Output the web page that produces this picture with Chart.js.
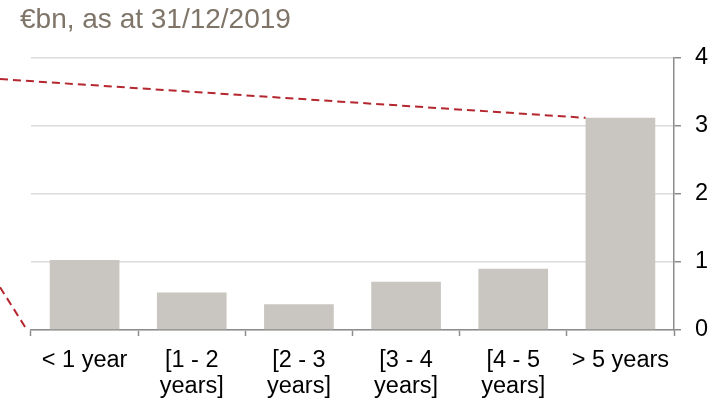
<!DOCTYPE html>
<html>
<head>
<meta charset="utf-8">
<script src="https://cdn.jsdelivr.net/npm/chart.js@4"></script>
<style>
    html, body { margin: 0; padding: 0; background: #fff; }
    #wrap { width: 721px; height: 401px; position: relative; }
</style>
</head>
<body>
<div id="wrap"><canvas id="maturityChart"></canvas></div>
<script>
const TITLE = '€bn, as at 31/12/2019';

const categories = [
    ['< 1 year'],
    ['[1 - 2', 'years]'],
    ['[2 - 3', 'years]'],
    ['[3 - 4', 'years]'],
    ['[4 - 5', 'years]'],
    ['> 5 years']
];

const amounts = [1.03, 0.55, 0.38, 0.71, 0.90, 3.12];

const yTicks = [0, 1, 2, 3, 4];

// callout lines coming in from the chart on the left (values on the y scale at x = 0)
const calloutTopStart = 3.69;
const calloutBottomStart = 0.63;

const FONT = "'Liberation Sans', Arial, sans-serif";

const titlePlugin = {
    id: 'titleText',
    afterDraw(chart) {
        const ctx = chart.ctx;
        ctx.save();
        ctx.font = '28px ' + FONT;
        ctx.fillStyle = '#7f7468';
        ctx.textBaseline = 'middle';
        ctx.fillText(TITLE, 20, 20);
        ctx.restore();
    }
};

const calloutPlugin = {
    id: 'callout',
    afterDatasetsDraw(chart) {
        const ctx = chart.ctx;
        const y = chart.scales.y;
        const last = chart.getDatasetMeta(0).data[amounts.length - 1];

        ctx.save();
        ctx.strokeStyle = '#b5272f';
        ctx.lineWidth = 2;
        ctx.setLineDash([8, 5]);

        ctx.beginPath();
        ctx.moveTo(0, y.getPixelForValue(calloutTopStart));
        ctx.lineTo(last.x - last.width / 2, last.y);
        ctx.stroke();

        ctx.beginPath();
        ctx.moveTo(0, y.getPixelForValue(calloutBottomStart));
        ctx.lineTo(chart.chartArea.left - 4, y.getPixelForValue(0));
        ctx.stroke();

        ctx.restore();
    }
};

new Chart(document.getElementById('maturityChart'), {
    type: 'bar',
    data: {
        labels: categories,
        datasets: [{
            data: amounts,
            backgroundColor: '#c9c5c0',
            barPercentage: 0.65,
            categoryPercentage: 1
        }]
    },
    options: {
        responsive: true,
        maintainAspectRatio: false,
        animation: false,
        layout: {
            padding: { top: 58, left: 31, right: 0, bottom: 0 }
        },
        plugins: {
            legend: { display: false },
            tooltip: { enabled: false }
        },
        scales: {
            x: {
                offset: true,
                grid: {
                    offset: true,
                    drawOnChartArea: false,
                    drawTicks: true,
                    tickLength: 6,
                    tickColor: '#8c8c8c',
                    tickWidth: 1.5
                },
                border: { color: '#8c8c8c', width: 1.5 },
                ticks: {
                    color: '#000',
                    font: { family: FONT, size: 23.5, lineHeight: 1.08 },
                    padding: 12,
                    maxRotation: 0,
                    autoSkip: false
                },
                afterFit(scale) {
                    scale.height = 71;
                }
            },
            y: {
                position: 'right',
                min: 0,
                max: 4,
                afterBuildTicks(scale) {
                    scale.ticks = yTicks.map(v => ({ value: v }));
                },
                grid: {
                    color: '#dcdcdc',
                    lineWidth: 1.5,
                    tickLength: 7,
                    tickColor: '#8c8c8c',
                    tickWidth: 1.5
                },
                border: { color: '#8c8c8c', width: 1.5 },
                ticks: {
                    color: '#000',
                    font: { family: FONT, size: 23.5 },
                    padding: 14
                },
                afterFit(scale) {
                    scale.width = 47;
                }
            }
        }
    },
    plugins: [titlePlugin, calloutPlugin]
});
</script>
</body>
</html>
